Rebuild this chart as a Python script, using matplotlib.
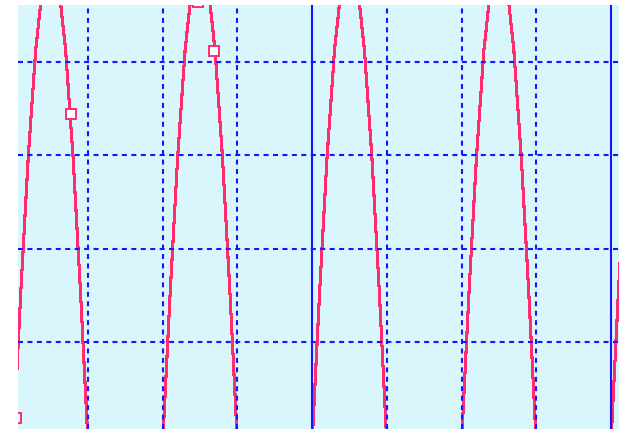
import numpy as np
import matplotlib
matplotlib.use("Agg")
import matplotlib.pyplot as plt

plt.rcParams['lines.scale_dashes'] = False

# Curve samples (x in grid divisions, step 0.1 from 0 to 8.2)
wave_y = [
    -0.08, 1.53, 2.98, 4.13, 4.87, 5.12, 4.87, 4.13, 2.98, 1.53,
    -0.08, -1.69, -3.14, -4.29, -5.03, -5.28, -5.03, -4.29, -3.14, -1.69,
    -0.08, 1.53, 2.98, 4.13, 4.87, 5.12, 4.87, 4.13, 2.98, 1.53,
    -0.08, -1.69, -3.14, -4.29, -5.03, -5.28, -5.03, -4.29, -3.14, -1.69,
    -0.08, 1.53, 2.98, 4.13, 4.87, 5.12, 4.87, 4.13, 2.98, 1.53,
    -0.08, -1.69, -3.14, -4.29, -5.03, -5.28, -5.03, -4.29, -3.14, -1.69,
    -0.08, 1.53, 2.98, 4.13, 4.87, 5.12, 4.87, 4.13, 2.98, 1.53,
    -0.08, -1.69, -3.14, -4.29, -5.03, -5.28, -5.03, -4.29, -3.14, -1.69,
    -0.08, 1.53, 2.98,
]
wave_x = np.linspace(0.0, 8.2, len(wave_y))

# Marker points
marker_x = [0.03, 0.766, 2.472, 2.693]
marker_y = [0.185, 3.44, 4.64, 4.12]

minor_grid_x = [1, 2, 3, 5, 6, 7]
major_grid_x = [4, 8]
grid_y = [1, 2, 3, 4]

W, H = 619, 429
fig = plt.figure(figsize=(W / 100, H / 100), dpi=100)
fig.patch.set_facecolor('white')
ax = fig.add_axes([18 / W, 0, (W - 18) / W, (H - 5) / H])
ax.set_facecolor('#d9f6fc')
ax.set_xlim(0.063, 8.108)
ax.set_ylim(0.068, 4.61)
for s in ax.spines.values():
    s.set_visible(False)
ax.set_xticks([])
ax.set_yticks([])

pink = '#ff2d6e'
blue = '#1515ff'

ax.plot(wave_x, wave_y, color=pink, lw=1.5, antialiased=False, zorder=2)
ax.plot(marker_x, marker_y, linestyle='none', marker='s', markersize=6.8,
        markerfacecolor='white', markeredgecolor=pink, markeredgewidth=1.4, zorder=4)

for gx in minor_grid_x:
    ax.axvline(gx, color=blue, lw=1.5, linestyle=(0, (3.6, 3.2)), zorder=3)
for gy in grid_y:
    ax.axhline(gy, color=blue, lw=1.5, linestyle=(0, (3.6, 3.2)), zorder=3)
for gx in major_grid_x:
    ax.axvline(gx, color=blue, lw=1.5, linestyle='-', zorder=3)

fig.savefig('out.png', dpi=100, facecolor='white')
